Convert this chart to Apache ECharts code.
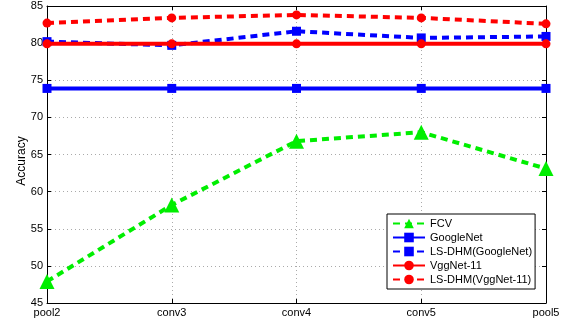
<!DOCTYPE html>
<html><head><meta charset="utf-8">
<script src="https://cdn.jsdelivr.net/npm/echarts@6/dist/echarts.min.js"></script>
<style>html,body{margin:0;padding:0;background:#fff}#c{width:563px;height:321px}</style>
</head><body><div id="c"></div>
<script>
const categories = ['pool2','conv3','conv4','conv5','pool5'];
const fcv = [47.9, 58.2, 66.8, 68.0, 63.1];
const googleNet = [73.9, 73.9, 73.9, 73.9, 73.9];
const lsdhmGoogleNet = [80.2, 79.7, 81.6, 80.7, 80.9];
const vggNet11 = [79.9, 79.9, 79.9, 79.9, 79.9];
const lsdhmVggNet11 = [82.7, 83.4, 83.8, 83.4, 82.6];
const yTicks = {min: 45, max: 85, interval: 5};

const font = 'Liberation Sans, Arial, sans-serif';
const chart = echarts.init(document.getElementById('c'), null, {renderer: 'canvas'});
const gridLine = {show: true, lineStyle: {color: '#aaa', type: [1, 3], width: 1}};
function mk(name, data, color, dashed, symbol, size, z) {
  return {
    name, type: 'line', data, xAxisIndex: 0, yAxisIndex: 0,
    symbol, symbolSize: size, showSymbol: true, z,
    itemStyle: {color},
    lineStyle: {color, width: 4, type: dashed ? [7, 5] : 'solid'},
    animation: false
  };
}
chart.setOption({
  animation: false,
  grid: {left: 47, right: 17, top: 6, bottom: 18, show: false},
  xAxis: [{
    type: 'category', data: categories, boundaryGap: false, position: 'bottom',
    axisLine: {show: true, lineStyle: {color: '#000', width: 1}},
    axisTick: {show: true, inside: true, length: 4, lineStyle: {color: '#000'}},
    axisLabel: {color: '#000', fontFamily: font, fontSize: 11, margin: 4},
    splitLine: gridLine
  }, {
    type: 'category', data: categories, boundaryGap: false, position: 'top',
    axisLine: {show: true, lineStyle: {color: '#000', width: 1}},
    axisTick: {show: true, inside: true, length: 4, lineStyle: {color: '#000'}},
    axisLabel: {show: false}, splitLine: {show: false}
  }],
  yAxis: [{
    type: 'value', min: yTicks.min, max: yTicks.max, interval: yTicks.interval, position: 'left',
    name: 'Accuracy', nameLocation: 'middle', nameGap: 19, nameRotate: 90, nameMoveOverlap: false,
    nameTextStyle: {color: '#000', fontFamily: font, fontSize: 12, padding: [0, 13, 0, 0]},
    axisLine: {show: true, lineStyle: {color: '#000', width: 1}},
    axisTick: {show: true, inside: true, length: 4, lineStyle: {color: '#000'}},
    axisLabel: {color: '#000', fontFamily: font, fontSize: 11, margin: 4},
    splitLine: gridLine
  }, {
    type: 'value', min: yTicks.min, max: yTicks.max, interval: yTicks.interval, position: 'right',
    axisLine: {show: true, lineStyle: {color: '#000', width: 1}},
    axisTick: {show: true, inside: true, length: 4, lineStyle: {color: '#000'}},
    axisLabel: {show: false}, splitLine: {show: false}
  }],
  legend: {
    orient: 'vertical', left: 387, top: 214,
    backgroundColor: '#fff', borderColor: '#000', borderWidth: 1,
    padding: [4, 3, 4, 5], itemGap: 3, itemWidth: 32, itemHeight: 12,
    textStyle: {color: '#000', fontFamily: font, fontSize: 11},
    data: ['FCV', 'GoogleNet', 'LS-DHM(GoogleNet)', 'VggNet-11', 'LS-DHM(VggNet-11)']
  },
  series: [
    mk('FCV', fcv, '#00ee00', true, 'triangle', 15, 3),
    mk('GoogleNet', googleNet, '#0000ff', false, 'rect', 9, 3),
    mk('LS-DHM(GoogleNet)', lsdhmGoogleNet, '#0000ff', true, 'rect', 9, 4),
    mk('VggNet-11', vggNet11, '#ff0000', false, 'circle', 9, 5),
    mk('LS-DHM(VggNet-11)', lsdhmVggNet11, '#ff0000', true, 'circle', 9, 6)
  ]
});
</script></body></html>
